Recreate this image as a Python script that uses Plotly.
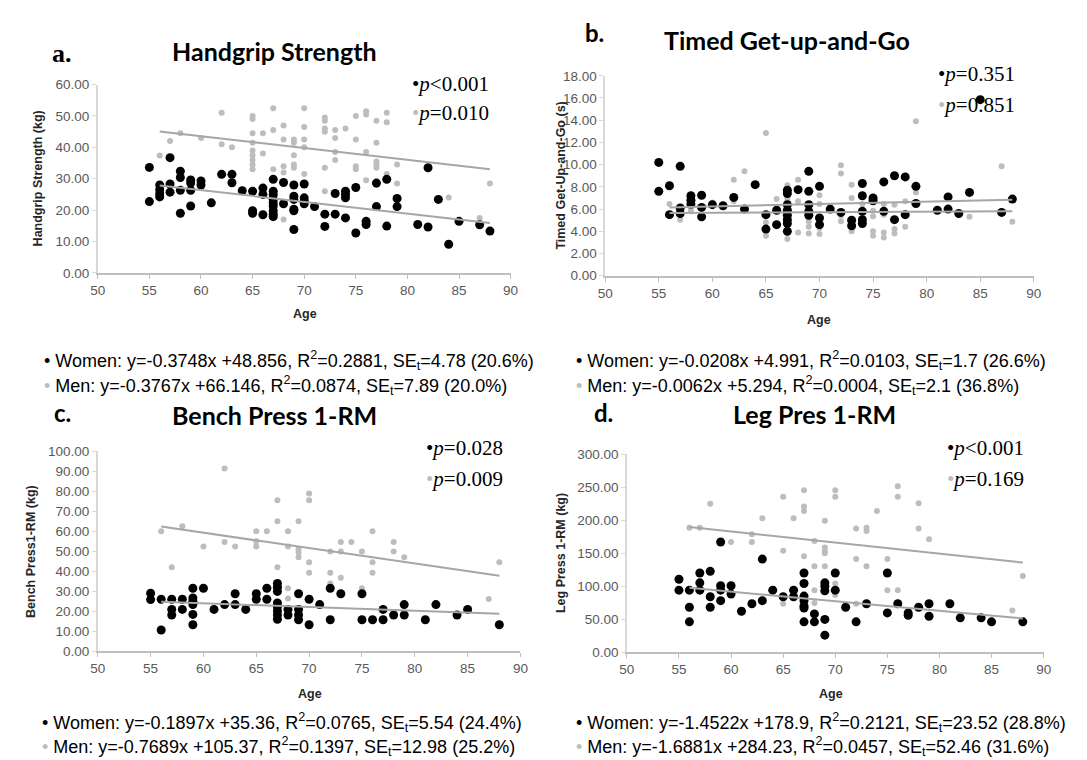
import plotly.graph_objects as go

W, H = 1087, 760

# ---------------- DATA ----------------
# a. Handgrip Strength
hg_women_age = [55, 55, 56, 56, 56, 56, 57, 57, 57, 58, 58, 58, 58, 59, 59, 59, 59, 60, 60, 61, 62, 63, 63, 64,
                65, 65, 65, 66, 66, 66, 67, 67, 67, 67, 67, 67, 67, 67, 67, 68, 68, 69, 69, 69, 69, 69, 69,
                70, 70, 70, 70, 71, 72, 72, 73, 73, 74, 74, 74, 74, 75, 75, 76, 76, 77, 77, 78, 78, 79, 79,
                81, 82, 82, 83, 84, 85, 87, 88]
hg_women_val = [33.6, 22.7, 28.0, 26.5, 25.2, 24.2, 36.7, 28.3, 25.7, 32.4, 30.4, 26.3, 19.0, 29.6, 28.6, 26.3, 21.3,
                29.3, 28.0, 22.3, 31.4, 31.4, 28.7, 26.2, 26.0, 19.8, 19.0, 27.0, 25.0, 18.5,
                29.8, 26.0, 25.0, 23.4, 22.3, 21.3, 19.8, 18.7, 17.9, 28.8, 22.0, 28.0, 24.4, 23.4, 20.3, 19.8, 13.8,
                28.3, 23.9, 22.9, 22.0, 21.1, 18.7, 14.8, 25.3, 18.7, 26.0, 25.0, 23.9, 17.5, 27.2, 12.7, 16.4, 15.4,
                28.6, 21.1, 29.8, 14.9, 23.7, 21.1, 15.4, 33.5, 14.6, 23.4, 9.1, 16.4, 15.3, 13.3]
hg_men_age = [56, 57, 58, 60, 62, 62, 63, 65, 65, 65, 65, 65, 65, 65, 65, 65, 66, 66, 67, 67, 67,
              68, 68, 68, 68, 68, 69, 69, 69, 69, 69, 70, 70, 70, 70, 70, 72, 72, 72, 72, 72, 72,
              73, 73, 73, 73, 74, 75, 75, 75, 75, 76, 76, 76, 76, 77, 77, 77, 77, 77, 77, 78, 78, 78,
              79, 79, 84, 87, 88]
hg_men_val = [37.4, 42.0, 44.5, 43.0, 51.0, 41.0, 40.0, 50.0, 49.0, 44.5, 41.5, 39.0, 37.5, 36.0, 34.5, 33.0,
              44.5, 38.0, 52.5, 45.5, 33.0, 47.0, 42.5, 34.0, 32.0, 17.0, 42.5, 41.5, 37.5, 34.5, 33.5,
              52.5, 46.5, 42.5, 40.0, 31.5, 49.5, 48.5, 46.0, 45.0, 33.5, 26.0, 45.5, 43.0, 38.5, 36.0, 46.0,
              50.0, 42.5, 34.0, 33.0, 51.5, 50.5, 38.5, 29.5, 48.5, 41.5, 35.5, 34.5, 33.5, 28.0, 51.0, 48.0, 31.5,
              34.5, 28.5, 24.0, 17.5, 28.5]

# b. Timed Get-up-and-Go
tug_women_age = [55, 55, 56, 56, 57, 57, 57, 58, 58, 58, 59, 59, 59, 60, 61, 62, 63, 64, 65, 65, 66, 66,
                 67, 67, 67, 67, 67, 67, 67, 67, 68, 69, 69, 69, 69, 69, 70, 70, 70, 71, 72, 73, 73,
                 74, 74, 74, 74, 74, 75, 75, 76, 76, 77, 77, 78, 78, 79, 79, 81, 82, 82, 83, 84, 85, 87, 88]
tug_women_val = [10.2, 7.6, 8.1, 5.5, 9.85, 6.1, 5.6, 7.2, 6.8, 6.45, 7.25, 6.15, 5.3, 6.4, 6.3, 7.05, 6.0, 8.2,
                 5.5, 4.2, 5.9, 4.6, 7.7, 7.4, 6.4, 5.9, 5.45, 5.05, 4.7, 4.0, 7.75, 9.4, 7.6, 6.4, 5.8, 5.45,
                 8.05, 5.2, 4.6, 6.0, 5.7, 5.0, 4.5, 8.3, 7.2, 5.8, 5.05, 4.7, 7.0, 6.75, 8.45, 5.8, 9.0, 5.05,
                 8.9, 5.5, 8.05, 6.5, 5.9, 7.1, 6.0, 5.6, 7.5, 15.85, 5.7, 6.9]
tug_men_age = [56, 57, 58, 58, 60, 62, 62, 63, 65, 65, 65, 65, 65, 66, 67, 67, 67, 67, 67, 68, 68, 68,
               69, 69, 69, 69, 70, 70, 70, 70, 72, 72, 72, 72, 73, 73, 73, 74, 75, 75, 75, 75,
               76, 76, 76, 76, 77, 77, 77, 78, 78, 79, 79, 84, 87, 88]
tug_men_val = [6.45, 5.05, 6.1, 5.8, 6.6, 8.65, 6.7, 9.4, 12.85, 5.35, 4.8, 4.2, 3.6, 6.9, 8.15, 7.1, 6.8, 3.9, 3.3,
               8.65, 6.7, 3.9, 5.35, 4.9, 4.4, 3.8, 7.25, 6.45, 4.3, 3.75, 9.95, 9.2, 5.4, 4.9, 8.2, 7.0, 4.0,
               6.45, 5.85, 5.35, 4.0, 3.6, 6.45, 5.5, 3.9, 3.45, 6.4, 4.2, 3.8, 6.7, 4.4, 13.9, 7.5, 5.3, 9.85, 4.85]

# c. Bench Press 1-RM
bp_women_age = [55, 55, 56, 56, 57, 57, 57, 58, 58, 59, 59, 59, 59, 59, 59, 60, 61, 62, 63, 63, 64, 65, 65,
                66, 66, 67, 67, 67, 67, 67, 67, 67, 67, 68, 68, 69, 69, 69, 69, 70, 70, 71, 72, 72, 73,
                75, 75, 76, 77, 77, 78, 79, 79, 81, 82, 84, 85, 88]
bp_women_val = [29.0, 25.8, 26.0, 10.6, 26.0, 20.9, 18.1, 26.0, 20.9, 31.5, 26.6, 25.0, 23.3, 18.4, 13.2, 31.5,
                20.9, 23.3, 28.7, 23.3, 20.9, 28.7, 26.0, 31.5, 26.0, 33.9, 32.0, 29.9, 24.1, 22.2, 20.1, 18.1, 16.0,
                20.9, 18.1, 28.7, 20.9, 18.1, 15.7, 26.0, 13.2, 23.3, 31.5, 15.7, 28.7, 28.7, 15.7, 15.7,
                20.9, 15.7, 18.1, 23.3, 18.1, 15.7, 23.3, 18.1, 20.9, 13.2]
bp_men_age = [56, 57, 58, 60, 62, 62, 63, 65, 65, 65, 66, 67, 67, 67, 68, 68, 68, 68, 69, 69, 69, 69,
              70, 70, 70, 70, 72, 72, 72, 73, 73, 73, 74, 75, 75, 76, 76, 76, 78, 78, 79, 87, 88]
bp_men_val = [60.0, 42.0, 62.5, 52.4, 91.4, 54.6, 52.4, 60.0, 55.0, 52.4, 60.0, 75.5, 65.0, 42.0, 60.0, 52.4,
              31.5, 26.3, 65.0, 51.0, 49.4, 47.0, 78.8, 75.5, 44.5, 39.2, 49.8, 39.2, 33.9, 54.6, 49.8, 36.7,
              54.6, 49.8, 31.5, 60.0, 44.5, 39.2, 54.6, 49.8, 47.0, 26.1, 44.5]

# d. Leg Press 1-RM
lp_women_age = [55, 55, 56, 56, 56, 57, 57, 57, 58, 58, 58, 59, 59, 59, 59, 60, 60, 61, 62, 63, 63, 64, 65,
                66, 66, 67, 67, 67, 67, 67, 67, 67, 68, 68, 69, 69, 69, 69, 69, 70, 70, 71, 72, 73,
                75, 75, 76, 77, 77, 78, 79, 79, 81, 82, 84, 85, 88]
lp_women_val = [110.5, 94, 94, 68, 46, 120, 105, 94, 122.5, 84, 68, 167, 100.6, 94, 78, 100.6, 88, 62, 73.4,
                141, 78, 94, 84, 94, 84, 120, 104, 85, 78, 70, 67, 46, 58, 46, 105, 100, 93, 49.6, 25.8,
                120, 94, 68, 46, 73.4, 120, 59.5, 73.4, 59.5, 56, 68, 73.4, 54.5, 73.4, 52, 52, 46, 46]
lp_men_age = [56, 57, 58, 60, 62, 62, 63, 65, 65, 65, 66, 67, 67, 67, 67, 68, 68, 68, 68,
              69, 69, 69, 69, 69, 70, 70, 70, 70, 72, 72, 72, 73, 73, 73, 74, 75, 75, 76, 76, 76,
              78, 78, 79, 87, 88]
lp_men_val = [188.4, 188.4, 225, 167, 178.5, 167, 203, 235.5, 153.7, 73.4, 203, 245.4, 220.6, 214, 145.3,
              168.6, 130, 94, 74.4, 199.3, 158.7, 153.7, 149.7, 130, 245.4, 235.5, 104, 86.8, 187.4, 141, 73.4,
              188.4, 183.4, 130, 214, 141, 94, 251.4, 235.5, 94, 225.6, 187.4, 171, 63, 115.5]

# regression fits (slope, intercept) as drawn, x range 56..88
fit_x = [56, 88]
fits = {
    "a": [(-0.3748, 48.856), (-0.3767, 66.146)],
    "b": [(0.0047, 5.39), (0.0219, 4.92)],
    "c": [(-0.1897, 35.36), (-0.7689, 105.37)],
    "d": [(-1.4522, 178.9), (-1.6881, 284.23)],
}

titles = {"a": "Handgrip Strength", "b": "Timed Get-up-and-Go", "c": "Bench Press 1-RM", "d": "Leg Pres 1-RM"}
ytitles = {"a": "Handgrip Strength (kg)", "b": "Timed Get-Up-and-Go (s)",
           "c": "Bench Press1-RM (kg)", "d": "Leg Press 1-RM (kg)"}
pvals = {"a": ("p&lt;0.001", "p=0.010"), "b": ("p=0.351", "p=0.851"),
         "c": ("p=0.028", "p=0.009"), "d": ("p&lt;0.001", "p=0.169")}
yranges = {"a": (0, 60, 10), "b": (0, 18, 2), "c": (0, 100, 10), "d": (0, 300, 50)}
eq_women = {"a": "Women: y=-0.3748x +48.856, R<sup>2</sup>=0.2881, SE<sub>t</sub>=4.78 (20.6%)",
            "b": "Women: y=-0.0208x +4.991, R<sup>2</sup>=0.0103, SE<sub>t</sub>=1.7 (26.6%)",
            "c": "Women: y=-0.1897x +35.36, R<sup>2</sup>=0.0765, SE<sub>t</sub>=5.54 (24.4%)",
            "d": "Women: y=-1.4522x +178.9, R<sup>2</sup>=0.2121, SE<sub>t</sub>=23.52 (28.8%)"}
eq_men = {"a": "Men: y=-0.3767x +66.146, R<sup>2</sup>=0.0874, SE<sub>t</sub>=7.89 (20.0%)",
          "b": "Men: y=-0.0062x +5.294, R<sup>2</sup>=0.0004, SE<sub>t</sub>=2.1 (36.8%)",
          "c": "Men: y=-0.7689x +105.37, R<sup>2</sup>=0.1397, SE<sub>t</sub>=12.98 (25.2%)",
          "d": "Men: y=-1.6881x +284.23, R<sup>2</sup>=0.0457, SE<sub>t</sub>=52.46 (31.6%)"}

data = {
    "a": (hg_women_age, hg_women_val, hg_men_age, hg_men_val),
    "b": (tug_women_age, tug_women_val, tug_men_age, tug_men_val),
    "c": (bp_women_age, bp_women_val, bp_men_age, bp_men_val),
    "d": (lp_women_age, lp_women_val, lp_men_age, lp_men_val),
}

# ---------------- LAYOUT (pixel geometry) ----------------
# plot-area boxes in pixels: x0, x1, y_bottom, y_top
boxes = {"a": (83, 502, 263, 71), "b": (598, 1033, 266, 62),
         "c": (83, 512, 649, 445), "d": (620, 1043, 650, 448)}

def px(x):
    return x / W

def py(y):
    return 1 - y / H

AX_FONT = "Liberation Sans Narrow, Liberation Sans, Arial"
TITLE_FONT = "Lato, Open Sans, Liberation Sans"
SERIF = "Liberation Serif, Times New Roman, serif"

BLACK = "#000000"
GRAY_PT = "#bdbdbd"
LINE_GRAY = "#a6a6a6"

fig = go.Figure()
annotations = []
layout_axes = {}

for i, key in enumerate(["a", "b", "c", "d"]):
    n = i + 1
    xa = "x" if n == 1 else f"x{n}"
    ya = "y" if n == 1 else f"y{n}"
    x0, x1, yb, yt = boxes[key]
    wa, wv, ma, mv = data[key]
    fig.add_trace(go.Scatter(x=ma, y=mv, mode="markers", xaxis=xa, yaxis=ya,
                             marker=dict(size=6, color=GRAY_PT), showlegend=False, hoverinfo="x+y"))
    fig.add_trace(go.Scatter(x=wa, y=wv, mode="markers", xaxis=xa, yaxis=ya,
                             marker=dict(size=9, color=BLACK), showlegend=False, hoverinfo="x+y"))
    for slope, icpt in fits[key]:
        fig.add_trace(go.Scatter(x=fit_x, y=[slope * v + icpt for v in fit_x], mode="lines",
                                 xaxis=xa, yaxis=ya, line=dict(color=LINE_GRAY, width=2),
                                 showlegend=False, hoverinfo="skip"))
    ymin, ymax, dy = yranges[key]
    xname = "xaxis" if n == 1 else f"xaxis{n}"
    yname = "yaxis" if n == 1 else f"yaxis{n}"
    layout_axes[xname] = dict(domain=[px(x0), px(x1)], anchor=ya, range=[50, 90],
                              tickvals=list(range(50, 91, 5)), showgrid=False, zeroline=False,
                              showline=True, linecolor="#bfbfbf", linewidth=1.5,
                              ticks="outside", ticklen=4, tickcolor="#bfbfbf",
                              tickfont=dict(family=AX_FONT, size=13.5, color="#595959"))
    layout_axes[yname] = dict(domain=[py(yb), py(yt)], anchor=xa, range=[ymin, ymax],
                              tickvals=list(range(ymin, ymax + 1, dy)), tickformat=".2f",
                              showgrid=False, zeroline=False, showline=True, linecolor="#d9d9d9",
                              linewidth=1.5, ticks="outside", ticklen=4, tickcolor="#d9d9d9",
                              tickfont=dict(family=AX_FONT, size=13.5, color="#595959"))

    # chart title
    tx = {"a": 262, "b": 783, "c": 262, "d": 810}[key]
    ty = {"a": 37, "b": 26, "c": 408, "d": 407}[key]
    annotations.append(dict(text=f"<b>{titles[key]}</b>", x=px(tx), y=py(ty), xref="paper", yref="paper",
                            xanchor="center", yanchor="middle", showarrow=False,
                            font=dict(family=TITLE_FONT, size=25, color="#000000")))
    # panel letter
    lx, ly = {"a": (35, 39), "b": (575, 18), "c": (37, 405), "d": (585, 405)}[key]
    lfont = SERIF if key == "a" else TITLE_FONT
    annotations.append(dict(text=f"<b>{key}.</b>", x=px(lx), y=py(ly), xref="paper", yref="paper",
                            xanchor="left", yanchor="middle", showarrow=False,
                            font=dict(family=lfont, size=26 if key == "a" else 24, color="#000000")))
    # y axis title
    ytx = {"a": 22, "b": 553, "c": 15, "d": 553}[key]
    annotations.append(dict(text=f"<b>{ytitles[key]}</b>", x=px(ytx), y=py((yb + yt) / 2),
                            xref="paper", yref="paper", xanchor="center", yanchor="middle",
                            textangle=-90, showarrow=False,
                            font=dict(family=AX_FONT, size=12.5, color="#262626")))
    # x axis title
    axx, axy = {"a": (293, 305), "b": (815, 311), "c": (298, 693), "d": (827, 693)}[key]
    annotations.append(dict(text="<b>Age</b>", x=px(axx), y=py(axy), xref="paper", yref="paper",
                            xanchor="center", yanchor="middle", showarrow=False,
                            font=dict(family=AX_FONT, size=12.5, color="#262626")))
    # p-values
    pxx, py1, py2 = {"a": (400, 70, 100), "b": (934, 60, 92), "c": (414, 442, 473), "d": (943, 442, 473)}[key]
    p1, p2 = pvals[key]
    for (ptxt, pyy, col) in [(p1, py1, BLACK), (p2, py2, GRAY_PT)]:
        italic = "<i>p</i>" + ptxt[1:]
        annotations.append(dict(text=f"<span style='color:{col}'>•</span>{italic}", x=px(pxx), y=py(pyy),
                                xref="paper", yref="paper", xanchor="left", yanchor="middle",
                                showarrow=False, font=dict(family=SERIF, size=21, color="#000000")))
    # equations
    ex, ey1, ey2 = {"a": (26, 352, 378), "b": (566, 352, 378), "c": (24, 722, 746), "d": (566, 722, 746)}[key]
    for (etxt, eyy, col) in [(eq_women[key], ey1, BLACK), (eq_men[key], ey2, GRAY_PT)]:
        annotations.append(dict(text=f"<span style='color:{col}'>•</span> {etxt}", x=px(ex), y=py(eyy),
                                xref="paper", yref="paper", xanchor="left", yanchor="middle",
                                showarrow=False, font=dict(family=AX_FONT, size=18, color="#000000")))

fig.update_layout(width=W, height=H, margin=dict(l=0, r=0, t=0, b=0),
                  paper_bgcolor="white", plot_bgcolor="white", showlegend=False,
                  annotations=annotations, **layout_axes)

fig.write_html("out.html")
